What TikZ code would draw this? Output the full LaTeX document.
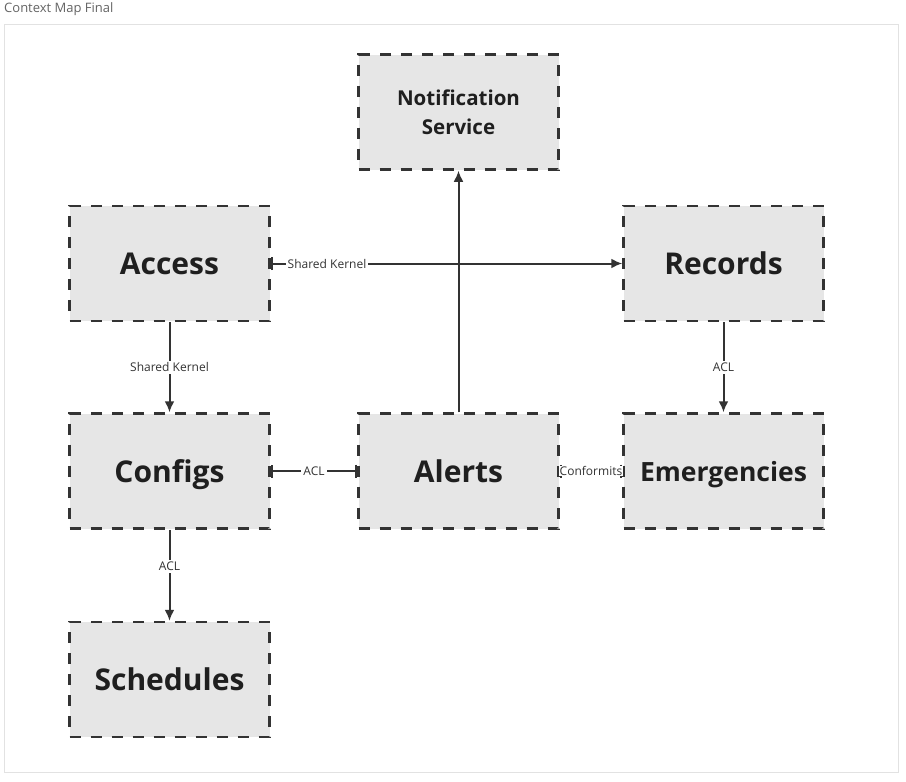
\documentclass[tikz,border=0pt]{standalone}
\usepackage{fontspec}
\setmainfont{Open Sans}
\usetikzlibrary{arrows.meta}

\definecolor{boxfill}{RGB}{230,230,230}
\definecolor{linecol}{RGB}{51,51,51}
\definecolor{framecol}{RGB}{226,226,226}
\definecolor{titlecol}{RGB}{100,100,100}

\tikzset{
    ctxbox/.style={draw=linecol, fill=boxfill, line width=2.5pt,
        dash pattern=on 11pt off 10pt, minimum width=200pt, minimum height=115pt,
        font=\bfseries\fontsize{30}{34}\selectfont, text=black!88, align=center},
    rel/.style={draw=linecol, line width=2pt},
    rellabel/.style={fill=white, text=linecol, inner sep=2pt,
        font=\fontsize{12}{14}\selectfont},
    tip/.style={-{Latex[length=11pt,width=10pt]}},
    bartip/.style={{Bar[width=13pt]}-{Bar[width=13pt]}}
}

\begin{document}
\begin{tikzpicture}[x=1pt,y=-1pt]
        \useasboundingbox (0,0) rectangle (906,782);

        \draw [framecol, line width=1pt] (4,24) rectangle (898,772);
        \node[anchor=west, inner sep=0pt, text=titlecol, font=\fontsize{13}{15}\selectfont] (title) at (4,9) {Context Map Final};

        \coordinate (N1) at (458.5,112);
        \coordinate (A1) at (169.5,263.5);
        \coordinate (R1) at (723.5,263.5);
        \coordinate (C1) at (169.5,471);
        \coordinate (L1) at (458.5,471);
        \coordinate (E1) at (723.5,471);
        \coordinate (S1) at (169.5,679.5);

        \node[ctxbox, font=\bfseries\fontsize{20.5}{29}\selectfont] (notif) at (N1) {Notification\\Service};
        \node[ctxbox] (access) at (A1) {Access};
        \node[ctxbox] (records) at (R1) {Records};
        \node[ctxbox, text depth=0pt] (configs) at (C1) {Configs};
        \node[ctxbox] (alerts) at (L1) {Alerts};
        \node[ctxbox, text depth=0pt, font=\bfseries\fontsize{26.5}{30}\selectfont] (emerg) at (E1) {Emergencies};
        \node[ctxbox] (sched) at (S1) {Schedules};

        \draw [rel, {Bar[width=13pt]}-{Latex[length=11pt,width=10pt]}] (access.east) -- node[rellabel, pos=0.16] {Shared Kernel} (records.west);
        \draw [rel, tip] (alerts.north) -- (notif.south);
        \draw [rel, tip] (access.south) -- node[rellabel] {Shared Kernel} (configs.north);
        \draw [rel, bartip] (alerts.west) -- node[rellabel] {ACL} (configs.east);
        \draw [rel, tip] (configs.south) -- node[rellabel, pos=0.4] {ACL} (sched.north);
        \draw [rel, tip] (records.south) -- node[rellabel] {ACL} (emerg.north);
        \draw [rel, bartip] (alerts.east) -- node[rellabel, inner sep=0.5pt] {Conformits} (emerg.west);
    \end{tikzpicture}
\end{document}
